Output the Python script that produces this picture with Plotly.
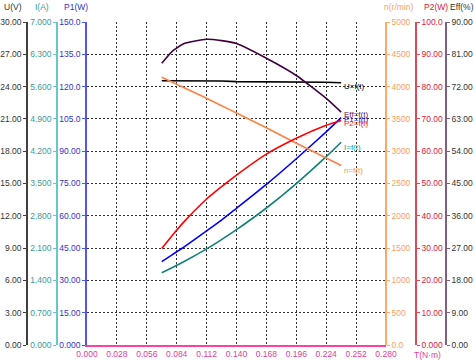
import plotly.graph_objects as go

# ---- data ----
torque = [0.070, 0.080, 0.091, 0.112, 0.126, 0.140, 0.168, 0.196, 0.224, 0.238]
voltage = [24.55, 24.55, 24.55, 24.55, 24.52, 24.46, 24.46, 24.46, 24.40, 24.36]
current = [1.567, 1.680, 1.810, 2.083, 2.285, 2.499, 2.969, 3.498, 4.081, 4.393]
p1_power = [38.7, 42.0, 45.6, 53.0, 58.0, 63.5, 74.6, 86.5, 99.0, 105.6]
speed = [4144, 4066, 3981, 3819, 3705, 3591, 3362, 3124, 2895, 2779]
p2_power = [29.9, 34.0, 38.2, 45.2, 49.0, 52.6, 59.1, 64.0, 68.0, 69.5]
efficiency = [78.5, 81.9, 84.0, 85.2, 84.8, 84.0, 79.9, 75.1, 68.7, 64.9]

x_ticks = [0.000, 0.028, 0.056, 0.084, 0.112, 0.140, 0.168, 0.196, 0.224, 0.252, 0.280]
u_ticks = ["0.00", "3.00", "6.00", "9.00", "12.00", "15.00", "18.00", "21.00", "24.00", "27.00", "30.00"]
i_ticks = ["0.000", "0.700", "1.400", "2.100", "2.800", "3.500", "4.200", "4.900", "5.600", "6.300", "7.000"]
p1_ticks = ["0.000", "15.00", "30.00", "45.00", "60.00", "75.00", "90.00", "105.0", "120.0", "135.0", "150.0"]
n_ticks = ["0.0", "500", "1000", "1500", "2000", "2500", "3000", "3500", "4000", "4500", "5000"]
p2_ticks = ["0.000", "10.00", "20.00", "30.00", "40.00", "50.00", "60.00", "70.00", "80.00", "90.00", "100.0"]
eff_ticks = ["0.00", "9.00", "18.00", "27.00", "36.00", "45.00", "54.00", "63.00", "72.00", "81.00", "90.00"]

W, H = 474, 363
FONT = "Liberation Sans, Arial, sans-serif"
FS = 8.5

x0, x1 = 87 / W, 386 / W
y0, y1 = 1 - 345 / H, 1 - 22 / H

C_U_LINE, C_U_TXT = "#404040", "#333333"
C_I_LINE, C_I_TXT = "#66c8c8", "#3a9a9a"
C_P1_LINE, C_P1_TXT = "#5555ee", "#3333cc"
C_N_LINE, C_N_TXT = "#ffa868", "#ffa060"
C_P2_LINE, C_P2_TXT = "#e04858", "#e0203c"
C_E_LINE, C_E_TXT = "#806080", "#333333"
C_X_LINE, C_X_TXT = "#ff40a0", "#e040a0"

fig = go.Figure()

curves = [
    ("U=f(t)", voltage, "y2", "#000000", "#000000", "linear"),
    ("Eff=f(t)", efficiency, "y6", "#400040", "#602060", "spline"),
    ("P1=f(t)", p1_power, "y", "#0000ff", "#2020e0", "spline"),
    ("P2=f(t)", p2_power, "y5", "#ff0000", "#ff2020", "spline"),
    ("I=f(t)", current, "y3", "#108078", "#20a090", "spline"),
    ("n=f(t)", speed, "y4", "#ff8040", "#ff9050", "spline"),
]
for name, vals, yax_, col, _, shp in curves:
    fig.add_trace(go.Scatter(x=torque, y=vals, yaxis=yax_, mode="lines",
                             line=dict(color=col, width=1.6, shape=shp, smoothing=0.5),
                             name=name, showlegend=False, hoverinfo="skip"))

label_shift = {"U=f(t)": -4, "Eff=f(t)": -2, "P1=f(t)": -2, "P2=f(t)": -3, "I=f(t)": -5, "n=f(t)": -5}
for name, vals, yax_, col, tcol, _ in curves:
    fig.add_annotation(x=torque[-1], y=vals[-1], xref="x", yref=yax_, text=name,
                       showarrow=False, xanchor="left", yanchor="middle",
                       xshift=1, yshift=label_shift[name],
                       font=dict(family=FONT, size=8, color=tcol))

tv = list(range(11))

def yax(maxv, ticks, line_c, txt_c, side, position=None, overlay=True, grid=False):
    d = dict(range=[0, maxv], tickvals=[maxv * k / 10 for k in tv], ticktext=ticks,
             domain=[y0, y1], showline=True, linecolor=line_c, linewidth=1.5,
             ticks="outside", ticklen=3, tickcolor=line_c, tickwidth=1,
             tickfont=dict(family=FONT, size=FS, color=txt_c), side=side,
             zeroline=False, showgrid=grid, fixedrange=True, automargin=False)
    if grid:
        d.update(gridcolor="#303030", gridwidth=1, griddash="2px,2px")
    if overlay:
        d.update(overlaying="y", anchor="free", position=position)
    else:
        d.update(anchor="x")
    return d

fig.update_layout(
    width=W, height=H, autosize=False,
    margin=dict(l=0, r=0, t=0, b=0, pad=0, autoexpand=False),
    paper_bgcolor="white", plot_bgcolor="white",
    xaxis=dict(domain=[x0, x1], range=[0, 0.28], tickvals=x_ticks,
               ticktext=["%.3f" % v for v in x_ticks],
               showline=True, linecolor=C_X_LINE, linewidth=1.5, ticks="",
               tickfont=dict(family=FONT, size=FS, color=C_X_TXT),
               showgrid=True, gridcolor="#303030", gridwidth=1, griddash="2px,2px",
               zeroline=False, fixedrange=True, anchor="y", automargin=False),
    yaxis=yax(150, p1_ticks, C_P1_LINE, C_P1_TXT, "left", overlay=False, grid=True),
    yaxis2=yax(30, u_ticks, C_U_LINE, C_U_TXT, "left", 27 / W),
    yaxis3=yax(7, i_ticks, C_I_LINE, C_I_TXT, "left", 57 / W),
    yaxis4=yax(5000, n_ticks, C_N_LINE, C_N_TXT, "right", 386 / W),
    yaxis5=yax(100, p2_ticks, C_P2_LINE, C_P2_TXT, "right", 416 / W),
    yaxis6=yax(90, eff_ticks, C_E_LINE, C_E_TXT, "right", 446 / W),
    showlegend=False,
)

titles = [
    ("U(V)", 2, C_U_TXT),
    ("I(A)", 33, C_I_TXT),
    ("P1(W)", 62, C_P1_TXT),
    ("n(r/min)", 382, C_N_TXT),
    ("P2(W)", 422, C_P2_TXT),
    ("Eff(%)", 448, C_E_TXT),
]
for txt, px, col in titles:
    fig.add_annotation(x=px / W, y=1 - 7 / H, xref="paper", yref="paper", text=txt,
                       showarrow=False, xanchor="left", yanchor="middle",
                       font=dict(family=FONT, size=FS, color=col))
fig.add_annotation(x=427 / W, y=1 - 355 / H, xref="paper", yref="paper", text="T(N·m)",
                   showarrow=False, xanchor="center", yanchor="middle",
                   font=dict(family=FONT, size=FS, color=C_X_TXT))

fig.write_html("out.html", config={"displayModeBar": False},
               post_script="document.body.style.margin='0';document.body.style.overflow='hidden';")
